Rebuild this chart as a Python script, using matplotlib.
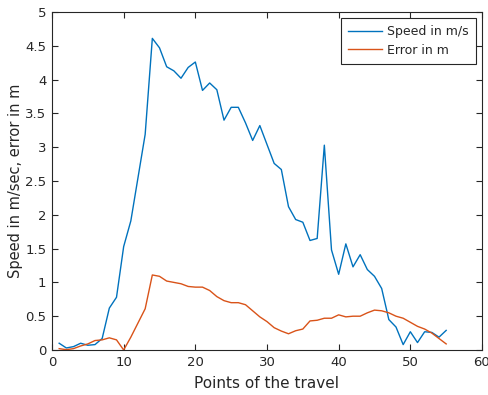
import numpy as np
import matplotlib
matplotlib.use("Agg")
import matplotlib.pyplot as plt

points = np.arange(1, 56)
speed = [0.10, 0.03, 0.05, 0.10, 0.07, 0.08, 0.17, 0.62, 0.78, 1.53,
         1.91, 2.55, 3.19, 4.61, 4.47, 4.19, 4.13, 4.02, 4.18, 4.26,
         3.84, 3.95, 3.85, 3.40, 3.59, 3.59, 3.36, 3.10, 3.32, 3.04,
         2.76, 2.67, 2.12, 1.93, 1.89, 1.62, 1.65, 3.03, 1.48, 1.12,
         1.57, 1.23, 1.41, 1.19, 1.09, 0.91, 0.45, 0.34, 0.08, 0.27,
         0.11, 0.27, 0.26, 0.19, 0.29]
error = [0.02, 0.005, 0.02, 0.06, 0.09, 0.14, 0.15, 0.18, 0.15, 0.0,
         0.19, 0.40, 0.61, 1.11, 1.09, 1.02, 1.00, 0.98, 0.94, 0.93,
         0.93, 0.88, 0.79, 0.73, 0.70, 0.70, 0.67, 0.58, 0.49, 0.42,
         0.33, 0.28, 0.24, 0.285, 0.31, 0.43, 0.44, 0.47, 0.47, 0.52,
         0.49, 0.50, 0.50, 0.55, 0.59, 0.58, 0.55, 0.50, 0.47, 0.41,
         0.35, 0.31, 0.25, 0.17, 0.09]

plt.rcParams['font.family'] = ['DejaVu Sans']
axc = '#262626'

fig = plt.figure(figsize=(4.89, 3.95), dpi=100)
ax = fig.add_axes([52/489, 1 - 350/395, 430/489, 338/395])
ax.plot(points, speed, color='#0072BD', lw=1.0, label='Speed in m/s')
ax.plot(points, error, color='#D95319', lw=1.0, label='Error in m')
ax.set_xlim(0, 60)
ax.set_ylim(0, 5)
ax.set_xticks(np.arange(0, 61, 10))
ax.set_yticks(np.arange(0, 5.01, 0.5))
ax.set_yticklabels(['0', '0.5', '1', '1.5', '2', '2.5', '3', '3.5', '4', '4.5', '5'])
ax.tick_params(direction='in', top=True, right=True, length=4, width=0.8,
               colors=axc, labelsize=9.5, pad=4)
for s in ax.spines.values():
    s.set_color(axc)
    s.set_linewidth(0.8)
ax.set_xlabel('Points of the travel', fontsize=11, color=axc, labelpad=5)
ax.set_ylabel('Speed in m/sec, error in m', fontsize=10.5, color=axc, labelpad=2)
leg = ax.legend(loc='upper right', fontsize=9, fancybox=False, framealpha=1,
                edgecolor=axc, handlelength=2.7, handletextpad=0.4,
                borderpad=0.6, labelspacing=0.45, borderaxespad=0.45)
leg.get_frame().set_linewidth(0.8)
for t in leg.get_texts():
    t.set_color(axc)

fig.savefig('out.png', dpi=100)
